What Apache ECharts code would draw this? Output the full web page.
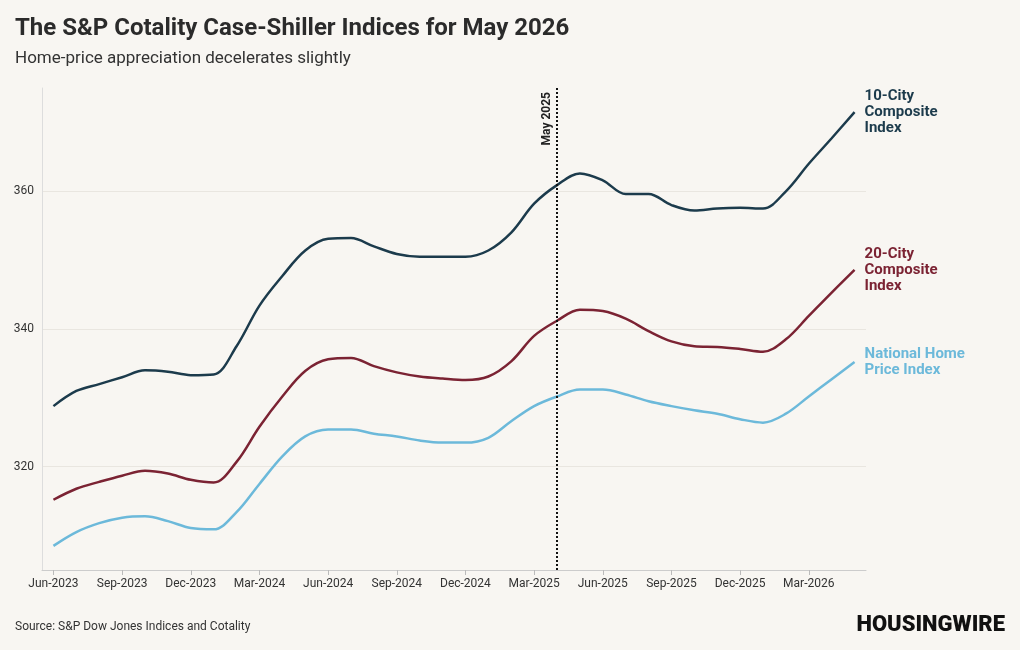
<!DOCTYPE html>
<html>
<head>
<meta charset="utf-8">
<script src="https://cdn.jsdelivr.net/npm/echarts@6/dist/echarts.min.js"></script>
<style>
html,body{margin:0;padding:0;background:#f8f6f2;}
#m{width:1020px;height:650px;}
</style>
</head>
<body>
<div id="m"></div>
<script>
var months = ['Jun-2023','Jul-2023','Aug-2023','Sep-2023','Oct-2023','Nov-2023','Dec-2023',
  'Jan-2024','Feb-2024','Mar-2024','Apr-2024','May-2024','Jun-2024','Jul-2024','Aug-2024','Sep-2024','Oct-2024','Nov-2024','Dec-2024',
  'Jan-2025','Feb-2025','Mar-2025','Apr-2025','May-2025','Jun-2025','Jul-2025','Aug-2025','Sep-2025','Oct-2025','Nov-2025','Dec-2025',
  'Jan-2026','Feb-2026','Mar-2026','Apr-2026','May-2026'];
var city10 = [328.8,331,332,333,334,333.8,333.3,333.4,337.5,343.4,347.7,351.4,353.1,353.2,352,350.9,350.5,350.5,350.5,
  351.4,354,358.2,360.9,362.6,361.6,359.6,359.6,358,357.2,357.5,357.6,357.5,360,364,367.7,371.5];
var city20 = [315.2,316.8,317.8,318.7,319.4,319,318.1,317.7,320.7,325.8,330.2,333.9,335.6,335.8,334.6,333.7,333.1,332.8,332.6,
  333.1,335.3,339,341.2,342.8,342.6,341.5,339.7,338.2,337.5,337.4,337.1,336.7,338.5,341.9,345.3,348.6];
var national = [308.5,310.5,311.8,312.6,312.8,312.1,311.1,310.9,313.4,317.5,321.5,324.4,325.4,325.4,324.8,324.4,323.8,323.5,323.5,
  324.2,326.6,328.8,330.2,331.2,331.2,330.5,329.5,328.8,328.2,327.7,326.9,326.4,327.7,330.2,332.7,335.2];
var gridLines = [320, 340, 360];

var font = 'Roboto';
function mk(name, data, color, label, z) {
  return {
    name: name, type: 'line', data: data, smooth: 0.35, showSymbol: false, z: z,
    lineStyle: {color: color, width: 2.5}, itemStyle: {color: color},
    endLabel: {show: true, formatter: label, color: color, fontFamily: font, fontWeight: 'bold',
      fontSize: 15, lineHeight: 16, distance: 10, align: 'left', verticalAlign: 'middle'}
  };
}
var series = [
  mk('10-City', city10, '#1c3b4c', '10-City\nComposite\nIndex', 3),
  mk('20-City', city20, '#7b2333', '20-City\nComposite\nIndex', 2),
  mk('National', national, '#6cb9da', 'National Home\nPrice Index', 1)
];
series[0].markLine = {
  silent: true, symbol: 'none',
  data: [{xAxis: 'Apr-2025'}],
  lineStyle: {color: '#111', type: 'dotted', width: 2},
  label: {formatter: 'May 2025', position: 'insideEndTop', rotate: 90, color: '#222',
    fontFamily: font, fontWeight: 'bold', fontSize: 12, distance: 4}
};
series[2].markLine = {
  silent: true, symbol: 'none', z: 0,
  data: gridLines.map(function (v) { return {yAxis: v}; }),
  lineStyle: {color: '#e9e6e0', type: 'solid', width: 1},
  label: {show: false}
};

var myChart = echarts.init(document.getElementById('m'));
myChart.setOption({
  backgroundColor: '#f8f6f2',
  animation: false,
  title: [
    {text: 'The S&P Cotality Case-Shiller Indices for May 2026', left: 10, top: 12,
      textStyle: {fontFamily: font, fontWeight: 'bold', fontSize: 24, color: '#2b2b2b'}},
    {text: 'Home-price appreciation decelerates slightly', left: 10, top: 45,
      textStyle: {fontFamily: font, fontWeight: 'normal', fontSize: 17, color: '#333'}},
    {text: 'Source: S&P Dow Jones Indices and Cotality', left: 10, top: 616,
      textStyle: {fontFamily: font, fontWeight: 'normal', fontSize: 12, color: '#333'}},
    {text: 'HOUSINGWIRE', right: 10, top: 609,
      textStyle: {fontFamily: font, fontWeight: 900, fontSize: 22, color: '#111'}}
  ],
  grid: {left: 42, right: 154, top: 88, bottom: 80},
  xAxis: {
    type: 'category', data: months, boundaryGap: true,
    axisLine: {lineStyle: {color: '#ccc'}},
    axisTick: {show: true, alignWithLabel: true, interval: 2, lineStyle: {color: '#bbb'}},
    axisLabel: {interval: 2, color: '#333', fontFamily: font, fontSize: 12}
  },
  yAxis: {
    type: 'value', min: 305, max: 375, interval: 5,
    axisLine: {show: true, lineStyle: {color: '#ddd'}},
    axisTick: {show: false},
    splitLine: {show: false},
    axisLabel: {color: '#333', fontFamily: font, fontSize: 12,
      formatter: function (v) { return v % 20 === 0 ? v : ''; }}
  },
  series: series
});
</script>
</body>
</html>
